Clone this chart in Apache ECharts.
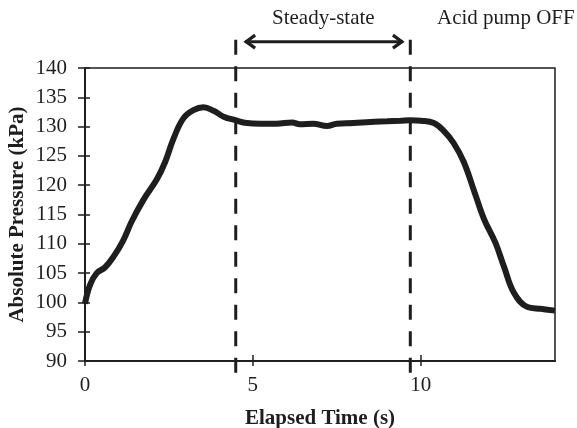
<!DOCTYPE html>
<html>
<head>
<meta charset="utf-8">
<script src="https://cdn.jsdelivr.net/npm/echarts@6/dist/echarts.min.js"></script>
<style>
html,body{margin:0;padding:0;background:#fff;}
#chart{width:577px;height:428px;}
</style>
</head>
<body>
<div id="chart"></div>
<script>
// Elapsed time (s)
const times = [0, 0.15, 0.35, 0.6, 0.85, 1.14, 1.39, 1.74, 2.14, 2.39, 2.64, 2.93, 3.23, 3.53, 3.83, 4.13, 4.48, 4.82, 5.22, 5.7, 6.17, 6.4, 6.8, 7.21, 7.5, 8.0, 8.5, 9.0, 9.4, 9.69, 10.0, 10.39, 10.7, 10.98, 11.28, 11.58, 11.88, 12.23, 12.48, 12.78, 13.18, 13.58, 14.0];
// Absolute pressure (kPa)
const pressures = [99.8, 103.0, 105.0, 106.0, 107.8, 110.6, 113.8, 117.5, 121.0, 124.0, 128.0, 131.4, 132.8, 133.3, 132.7, 131.7, 131.1, 130.6, 130.5, 130.5, 130.7, 130.4, 130.5, 130.1, 130.5, 130.6, 130.8, 130.9, 131.0, 131.1, 131.0, 130.6, 129.2, 127.2, 124.0, 119.2, 114.3, 110.1, 106.1, 101.6, 99.2, 98.9, 98.6];
const xTicks = [0, 5, 10];
const yTicks = [90, 95, 100, 105, 110, 115, 120, 125, 130, 135, 140];
// Steady-state window markers (s)
const steadyBounds = [4.49, 9.69];
const arrowRange = [4.77, 9.47];
const markerSpan = [86.2, 144.8];
const arrowLevel = 144.5;

const FONT = '"Liberation Serif", "Times New Roman", serif';
const INK = '#1e1e1e';
const FS = 21;

const chart = echarts.init(document.getElementById('chart'), null, {renderer: 'canvas'});

const xBase = {
  type: 'value', min: 0, max: 14, interval: 5,
  splitLine: {show: false}
};
const yBase = {
  type: 'value', min: 90, max: 140, interval: 5,
  splitLine: {show: false}
};

chart.setOption({
  animation: false,
  backgroundColor: '#fff',
  grid: {left: 85, right: 22, top: 68, bottom: 67, containLabel: false, outerBoundsMode: 'none',
    show: true, borderColor: INK, borderWidth: 1.5, backgroundColor: 'transparent'},
  xAxis: [
    Object.assign({}, xBase, {
      position: 'bottom',
      name: 'Elapsed Time (s)', nameLocation: 'middle', nameGap: 47, nameMoveOverlap: false,
      nameTextStyle: {fontFamily: FONT, fontSize: FS, fontWeight: 'bold', color: INK},
      axisLine: {show: true, onZero: false, lineStyle: {color: INK, width: 2}},
      axisTick: {show: true, inside: false, length: 5, customValues: xTicks, lineStyle: {color: INK, width: 1.5}},
      axisLabel: {show: true, margin: 14, customValues: xTicks, fontFamily: FONT, fontSize: FS, color: INK,
        formatter: v => (xTicks.indexOf(v) >= 0 ? String(v) : '')}
    }),
    Object.assign({}, xBase, {
      position: 'bottom',
      axisLine: {show: false},
      axisTick: {show: true, inside: true, length: 6, customValues: xTicks, lineStyle: {color: INK, width: 1.5}},
      axisLabel: {show: false}
    })
  ],
  yAxis: [
    Object.assign({}, yBase, {
      position: 'left',
      name: 'Absolute Pressure (kPa)', nameLocation: 'middle', nameGap: 57, nameMoveOverlap: false,
      nameTextStyle: {fontFamily: FONT, fontSize: FS, fontWeight: 'bold', color: INK},
      axisLine: {show: true, onZero: false, lineStyle: {color: INK, width: 2}},
      axisTick: {show: true, inside: false, length: 7, lineStyle: {color: INK, width: 1.5}},
      axisLabel: {show: true, margin: 18, customValues: yTicks, fontFamily: FONT, fontSize: FS, color: INK}
    }),
    Object.assign({}, yBase, {
      position: 'left',
      axisLine: {show: false},
      axisTick: {show: true, inside: true, length: 5, lineStyle: {color: INK, width: 1.5}},
      axisLabel: {show: false}
    })
  ],
  series: [
    {
      type: 'line',
      xAxisIndex: 0, yAxisIndex: 0,
      data: times.map((t, i) => [t, pressures[i]]),
      smooth: 0.4,
      showSymbol: false,
      clip: false,
      lineStyle: {color: INK, width: 6},
      z: 3
    },
    {
      type: 'custom',
      xAxisIndex: 0, yAxisIndex: 0,
      clip: false,
      data: steadyBounds.map(x => [x, 115]),
      renderItem: function (params, api) {
        const x = api.value(0);
        const p1 = api.coord([x, markerSpan[1]]);
        const p2 = api.coord([x, markerSpan[0]]);
        return {
          type: 'line',
          shape: {x1: p1[0], y1: p1[1], x2: p2[0], y2: p2[1]},
          style: {stroke: INK, lineWidth: 3, lineDash: [15, 11.5], fill: null}
        };
      },
      z: 4
    },
    {
      type: 'custom',
      xAxisIndex: 0, yAxisIndex: 0,
      clip: false,
      data: [[arrowRange[0], arrowLevel, arrowRange[1]]],
      renderItem: function (params, api) {
        const a = api.coord([api.value(0), api.value(1)]);
        const b = api.coord([api.value(2), api.value(1)]);
        const h = 10, w = 6.5;
        return {
          type: 'group',
          children: [
            {type: 'line', shape: {x1: a[0], y1: a[1], x2: b[0], y2: b[1]}, style: {stroke: INK, lineWidth: 3}},
            {type: 'polyline', shape: {points: [[a[0] + h, a[1] - w], [a[0] + 1, a[1]], [a[0] + h, a[1] + w]]},
              style: {stroke: INK, lineWidth: 3.2, fill: null, lineJoin: 'miter'}},
            {type: 'polyline', shape: {points: [[b[0] - h, b[1] - w], [b[0] - 1, b[1]], [b[0] - h, b[1] + w]]},
              style: {stroke: INK, lineWidth: 3.2, fill: null, lineJoin: 'miter'}}
          ]
        };
      },
      z: 4
    }
  ],
  graphic: [
    {type: 'text', left: 272, top: 8, style: {text: 'Steady-state', font: FS + 'px ' + FONT, fill: INK}},
    {type: 'text', left: 437, top: 8, style: {text: 'Acid pump OFF', font: FS + 'px ' + FONT, fill: INK}}
  ]
});
</script>
</body>
</html>
